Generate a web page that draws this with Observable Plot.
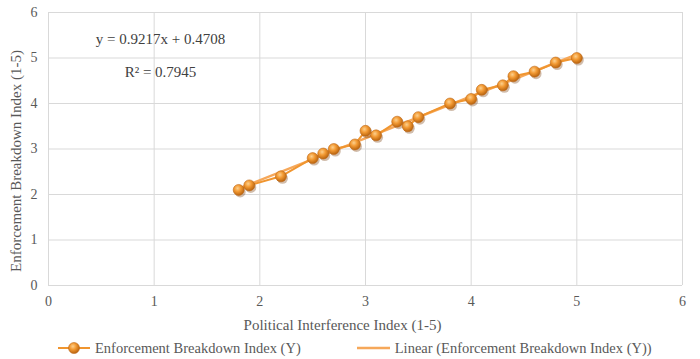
<!DOCTYPE html>
<html>
<head>
<meta charset="utf-8">
<script src="https://cdn.jsdelivr.net/npm/d3@7"></script>
<script src="https://cdn.jsdelivr.net/npm/@observablehq/plot@0.6"></script>
<style>
  body { margin: 0; background: #fff; }
  #chart { width: 700px; font-family: "Liberation Serif", "Times New Roman", serif; }
  #chart svg text { font-family: "Liberation Serif", "Times New Roman", serif !important; }
  .legend { display: flex; justify-content: flex-start; gap: 0; height: 22px; align-items: center; font-size: 14.5px; color: #595959; font-family: "Liberation Serif", serif; }
  .legend .item { display: flex; align-items: center; }
</style>
</head>
<body>
<div id="chart"></div>
<script>
// Data
const politicalInterference = [1.8, 1.9, 2.2, 2.5, 2.6, 2.7, 2.9, 3.0, 3.1, 3.3, 3.4, 3.5, 3.8, 4.0, 4.1, 4.3, 4.4, 4.6, 4.8, 5.0];
const enforcementBreakdown  = [2.1, 2.2, 2.4, 2.8, 2.9, 3.0, 3.1, 3.4, 3.3, 3.6, 3.5, 3.7, 4.0, 4.1, 4.3, 4.4, 4.6, 4.7, 4.9, 5.0];
const trendSlope = 0.9217;
const trendIntercept = 0.4708;
const equationText = "y = 0.9217x + 0.4708";
const r2Text = "R² = 0.7945";
const tickValues = [0, 1, 2, 3, 4, 5, 6];
const seriesName = "Enforcement Breakdown Index (Y)";
const trendName = "Linear (Enforcement Breakdown Index (Y))";
const xTitle = "Political Interference Index (1-5)";
const yTitle = "Enforcement Breakdown Index (1-5)";

const points = politicalInterference.map((x, i) => ({x, y: enforcementBreakdown[i]}));
const xmin = d3.min(politicalInterference), xmax = d3.max(politicalInterference);
const trend = [xmin, xmax].map(x => ({x, y: trendSlope * x + trendIntercept}));
const annotations = [{x: 1.06, y: 5.41, t: equationText}, {x: 1.06, y: 4.69, t: r2Text}];

const seriesColor = "#F0952F";
const trendColor = "#F6A85A";
const serif = "Liberation Serif, Times New Roman, serif";

const plot = Plot.plot({
  width: 700,
  height: 337,
  marginLeft: 48,
  marginRight: 18,
  marginTop: 12,
  marginBottom: 52,
  style: {fontFamily: serif, fontSize: "14px", color: "#595959", background: "#fff"},
  x: {domain: [0, 6], ticks: tickValues, label: null},
  y: {domain: [0, 6], ticks: tickValues, label: null},
  marks: [
    Plot.gridX(tickValues, {stroke: "#d9d9d9", strokeOpacity: 1, strokeWidth: 1}),
    Plot.gridY(tickValues, {stroke: "#d9d9d9", strokeOpacity: 1, strokeWidth: 1}),
    Plot.axisX({ticks: tickValues, tickFormat: "d", tickSize: 0, tickPadding: 11, label: null, fontSize: 14, fontFamily: serif, fill: "#595959"}),
    Plot.axisY({ticks: tickValues, tickFormat: "d", tickSize: 0, tickPadding: 11, label: null, fontSize: 14, fontFamily: serif, fill: "#595959"}),
    Plot.text([xTitle], {text: d => d, frameAnchor: "bottom", lineAnchor: "middle", dy: 40, dx: -23, fontSize: 15, fill: "#595959", fontFamily: serif}),
    Plot.text([yTitle], {text: d => d, frameAnchor: "left", rotate: -90, lineAnchor: "middle", textAnchor: "middle", dx: -32, dy: 12, fontSize: 15, fill: "#595959", fontFamily: serif}),
    Plot.line(trend, {x: "x", y: "y", stroke: trendColor, strokeWidth: 2.5}),
    Plot.line(points, {x: "x", y: "y", stroke: seriesColor, strokeWidth: 2}),
    Plot.dot(points, {x: "x", y: "y", r: 5.5, fill: "#7a4210", fillOpacity: 0.35, dx: 1.5, dy: 2, stroke: "none"}),
    Plot.dot(points, {x: "x", y: "y", r: 5.5, fill: "url(#ball)", stroke: "#c06a1a", strokeWidth: 0.6}),
    Plot.text(annotations, {x: "x", y: "y", text: "t", fontSize: 15, fill: "#404040", textAnchor: "middle", fontFamily: serif})
  ]
});

// gradient for ball-like markers
const svgSel = d3.select(plot);
const defs = svgSel.insert("defs", ":first-child");
const g = defs.append("radialGradient").attr("id", "ball").attr("cx", "40%").attr("cy", "35%").attr("r", "65%");
g.append("stop").attr("offset", "0%").attr("stop-color", "#FCD08E");
g.append("stop").attr("offset", "45%").attr("stop-color", "#F39A33");
g.append("stop").attr("offset", "100%").attr("stop-color", "#B9640F");

document.getElementById("chart").appendChild(plot);

// legend
const legend = d3.select("#chart").append("div").attr("class", "legend");
const item1 = legend.append("div").attr("class", "item").style("margin-left", "58px");
const s1 = item1.append("svg").attr("width", 34).attr("height", 14);
s1.append("defs").html(g.node().outerHTML.replace('id="ball"', 'id="ball2"'));
s1.append("line").attr("x1", 0).attr("x2", 32).attr("y1", 7).attr("y2", 7).attr("stroke", seriesColor).attr("stroke-width", 2);
s1.append("circle").attr("cx", 16).attr("cy", 7).attr("r", 5.5).attr("fill", "url(#ball2)").attr("stroke", "#c06a1a").attr("stroke-width", 0.6);
item1.append("span").text(seriesName).style("margin-left", "3px");
const item2 = legend.append("div").attr("class", "item").style("margin-left", "56px");
const s2 = item2.append("svg").attr("width", 36).attr("height", 14);
s2.append("line").attr("x1", 0).attr("x2", 33).attr("y1", 7).attr("y2", 7).attr("stroke", trendColor).attr("stroke-width", 2.5);
item2.append("span").text(trendName).style("margin-left", "2px");
</script>
</body>
</html>
